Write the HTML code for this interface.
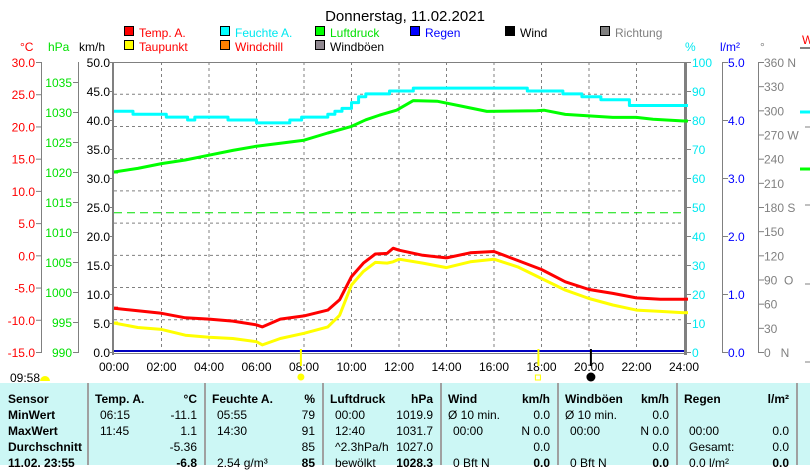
<!DOCTYPE html>
<html><head><meta charset="utf-8">
<style>
html,body{margin:0;padding:0;background:#fff;}
body{width:810px;height:465px;overflow:hidden;position:relative;font-family:"Liberation Sans",sans-serif;}
svg{position:absolute;left:0;top:0;}
svg text{font-family:"Liberation Sans",sans-serif;font-size:12px;}
#tbl{position:absolute;left:0;top:383px;width:810px;height:82px;background:#ccf7f5;}
.col{position:absolute;top:0;height:82px;border-left:2px solid #a0a0a0;}
.c{position:absolute;font-size:12px;white-space:nowrap;color:#000;}
.b{font-weight:bold;}
</style></head><body>
<svg id="chart" width="810" height="465" viewBox="0 0 810 465">
<text x="405" y="21" text-anchor="middle" style="font-size:15px">Donnerstag, 11.02.2021</text>
<g id="legend"></g>
<g id="grid"></g>
<g id="axes"></g>
<g id="series"></g>
</svg>
<div id="tbl"></div>
<script>
// ---- data ----
const xTicks = ["00:00","02:00","04:00","06:00","08:00","10:00","12:00","14:00","16:00","18:00","20:00","22:00","24:00"];
const kmhTicks = ["0.0","5.0","10.0","15.0","20.0","25.0","30.0","35.0","40.0","45.0","50.0"];
const tempTicks = ["-15.0","-10.0","-5.0","0.0","5.0","10.0","15.0","20.0","25.0","30.0"];
const presTicks = ["990","995","1000","1005","1010","1015","1020","1025","1030","1035"];
const humTicks = ["0","10","20","30","40","50","60","70","80","90","100"];
const rainTicks = ["0.0","1.0","2.0","3.0","4.0","5.0"];
const dirTicks = ["0   N","30","60","90  O","120","150","180 S","210","240","270 W","300","330","360 N"];
const tempHours = [0,1,2,3,4,5,6,6.25,7,8,9,9.5,10,10.5,11,11.5,11.75,12,13,14,15,16,17,18,19,20,21,22,23,24];
const tempValues = [-8.2,-8.6,-9.0,-9.7,-9.9,-10.2,-10.8,-11.1,-9.9,-9.4,-8.5,-6.9,-3.3,-1.2,0.2,0.3,1.1,0.8,0.0,-0.4,0.4,0.6,-0.8,-2.2,-4.1,-5.3,-5.9,-6.6,-6.8,-6.8];
const dewValues = [-10.5,-11.2,-11.5,-12.4,-12.7,-12.9,-13.4,-13.9,-12.9,-12.1,-11.1,-9.3,-4.6,-2.5,-1.1,-1.2,-1.0,-0.6,-1.2,-1.9,-1.0,-0.6,-1.8,-3.6,-5.4,-6.7,-7.7,-8.5,-8.7,-8.9];
const humHours = [0,0.8,2.2,3.1,3.4,3.7,4.8,6.0,6.9,7.4,7.9,8.6,9.0,9.3,9.6,10.0,10.3,10.6,11.6,12.6,15.6,17.4,18.9,19.7,20.5,21.7,24];
const humValues = [83,82,81,80,81,81,80,79,79,80,81,81,82,83,84,86,88,89,90,91,91,90,89,88,87,85,85];
const presHours = [0,1,2,3,4,5,6,7,8,9,10,10.6,11.2,11.9,12.6,13.6,14.6,15.7,17.8,18.1,19,21,22,22.7,24];
const presValues = [1020.0,1020.6,1021.4,1022.0,1022.8,1023.6,1024.3,1024.8,1025.3,1026.5,1027.6,1028.7,1029.5,1030.3,1031.9,1031.8,1031.0,1030.1,1030.2,1030.3,1029.6,1029.1,1029.1,1028.8,1028.5];
const rainValues = [0.0,0.0];
const rainHours = [0,24];
const refKmh = [24.0];
const sunRise = [7.87], sunSet = [17.87], moonRise = [20.08];

// ---- scales ----
const X0=114, X1=684, YT=62, YB=352;
const xs = h => X0 + (X1-X0)*h/24;
const yKmh = v => YB - (YB-YT)*v/50;
const yTemp = t => YB - (YB-YT)*(t+15)/45;
const yPres = p => YB - (YB-82)*(p-990)/45;
const yHum = p => YB - (YB-YT)*p/100;
const yRain = r => YB - (YB-YT)*r/5;
const NS='http://www.w3.org/2000/svg';
function mk(tag, attrs, parent, txt){const e=document.createElementNS(NS,tag);for(const k in attrs)e.setAttribute(k,attrs[k]);if(txt!==undefined)e.textContent=txt;parent.appendChild(e);return e;}
const G=document.getElementById('grid'), A=document.getElementById('axes'), S=document.getElementById('series'), L=document.getElementById('legend');

// grid
tempTicks.forEach((t,i)=>{const v=parseFloat(t); if(v>-15&&v<30){const l=mk('line',{x1:X0,x2:X1,y1:yTemp(v),y2:yTemp(v),stroke:'#808080','stroke-dasharray':'3,3'},G);

}});
xTicks.forEach((t,i)=>{const h=i*2; if(h>0&&h<24){const l=mk('line',{x1:xs(h),x2:xs(h),y1:YT,y2:YB,stroke:'#808080','stroke-dasharray':'3,3'},G);

}});

// plot frame
mk('line',{x1:X0,x2:X1,y1:YT+0.5,y2:YT+0.5,stroke:'#808080'},A);
mk('line',{x1:X0-1,x2:X0-1,y1:YT,y2:YB+3,stroke:'#808080','stroke-width':2},A);
mk('line',{x1:X1+1.5,x2:X1+1.5,y1:YT,y2:YB+3,stroke:'#808080','stroke-width':3},A);
mk('line',{x1:X0,x2:X1,y1:YB+1.5,y2:YB+1.5,stroke:'#808080'},A);

// x axis labels
xTicks.forEach((t,i)=>{const e=mk('text',{x:xs(i*2),y:371,'text-anchor':'middle'},A,t);

});

// left axes
mk('line',{x1:41.5,x2:41.5,y1:YT,y2:YB,stroke:'#808080'},A);
mk('line',{x1:78.5,x2:78.5,y1:YT,y2:YB,stroke:'#808080'},A);
tempTicks.forEach(t=>{const y=yTemp(parseFloat(t));mk('line',{x1:36,x2:42,y1:y+0.5,y2:y+0.5,stroke:'#808080'},A);
const e=mk('text',{x:35,y:y+5,'text-anchor':'end',fill:'#ff0000'},A,t);

});
presTicks.forEach(t=>{const y=yPres(parseFloat(t));mk('line',{x1:73,x2:79,y1:y+0.5,y2:y+0.5,stroke:'#808080'},A);
const e=mk('text',{x:72,y:y+5,'text-anchor':'end',fill:'#00e000'},A,t);

});
kmhTicks.forEach(t=>{const y=yKmh(parseFloat(t));mk('line',{x1:110,x2:114,y1:y+0.5,y2:y+0.5,stroke:'#808080'},A);
const e=mk('text',{x:110,y:y+5,'text-anchor':'end',fill:'#000'},A,t);

});
[['°C',20,'#ff0000'],['hPa',48,'#00e000'],['km/h',79,'#000']].forEach(a=>{const e=mk('text',{x:a[1],y:51},A,a[0]);e.setAttribute('fill',a[2]);

});

// right axes
humTicks.forEach(t=>{const y=yHum(parseFloat(t));mk('line',{x1:686,x2:691,y1:y+0.5,y2:y+0.5,stroke:'#808080'},A);
const e=mk('text',{x:692,y:y+5,fill:'#00e8f0'},A,t);

});
mk('line',{x1:722.5,x2:722.5,y1:YT,y2:YB,stroke:'#808080'},A);
rainTicks.forEach(t=>{const y=yRain(parseFloat(t));mk('line',{x1:722,x2:728,y1:y+0.5,y2:y+0.5,stroke:'#808080'},A);
const e=mk('text',{x:728,y:y+5,fill:'#0000ff'},A,t);

});
mk('line',{x1:758.5,x2:758.5,y1:YT,y2:YB,stroke:'#808080'},A);
dirTicks.forEach((t,i)=>{const y=YB-(YB-YT)*i/12;mk('line',{x1:758,x2:764,y1:y+0.5,y2:y+0.5,stroke:'#808080'},A);
const e=mk('text',{x:764,y:y+5,fill:'#808080'},A,t);e.setAttribute('xml:space','preserve');e.style.whiteSpace='pre';

});
[['%',685,'#00e8f0'],['l/m²',720,'#0000ff'],['°',760,'#808080']].forEach(a=>{const e=mk('text',{x:a[1],y:51},A,a[0]);e.setAttribute('fill',a[2]);

});
// far right partial axis
mk('text',{x:802,y:44,fill:'#ff0000'},A,'W');
mk('line',{x1:800,x2:810,y1:48,y2:48,stroke:'#808080','stroke-width':2},A);
mk('line',{x1:800,x2:810,y1:112,y2:112,stroke:'#00ffff','stroke-width':3},A);
mk('line',{x1:800,x2:810,y1:169,y2:169,stroke:'#00ff00','stroke-width':3},A);
[127,205,284,362].forEach(y=>mk('line',{x1:805,x2:810,y1:y,y2:y,stroke:'#808080'},A));

// legend
const legItems=[['Temp. A.','#ff0000','#ff0000',124,37],['Feuchte A.','#00ffff','#00e8f0',220,37],['Luftdruck','#00ff00','#00e000',315,37],['Regen','#0000ff','#0000ff',410,37],['Wind','#000000','#000',505,37],['Richtung','#808080','#808080',600,37],['Taupunkt','#ffff00','#ff0000',124,51],['Windchill','#ff8000','#ff0000',220,51],['Windböen','#908890','#000',315,51]];
legItems.forEach(it=>{mk('rect',{x:it[3]+0.5,y:it[4]-10.5,width:9,height:9,fill:it[1],stroke:'#000'},L);
const e=mk('text',{x:it[3]+15,y:it[4]},L,it[0]);e.setAttribute('fill',it[2]);

});

// series
function line(hours, vals, yf, color, name, step){
  let pts=[];
  for(let i=0;i<hours.length;i++){
    if(step&&i>0) pts.push(xs(hours[i]).toFixed(1)+','+yf(vals[i-1]).toFixed(1));
    pts.push(xs(hours[i]).toFixed(1)+','+yf(vals[i]).toFixed(1));
  }
  const p=mk('polyline',{points:pts.join(' '),fill:'none',stroke:color,'stroke-width':3,'stroke-linejoin':'round'},S);
  
  
}
const ref=mk('line',{x1:X0,x2:X1,y1:yKmh(refKmh[0]),y2:yKmh(refKmh[0]),stroke:'#00e000','stroke-dasharray':'8,5'},S);


line(humHours,humValues,yHum,'#00ffff','humidity-line',true);
line(presHours,presValues,yPres,'#00ff00','pressure-line',false);
line(tempHours,dewValues,yTemp,'#ffff00','dewpoint-line',false);
line(tempHours,tempValues,yTemp,'#ff0000','temperature-line',false);
const rl=mk('line',{x1:xs(rainHours[0]),x2:xs(rainHours[1]),y1:yRain(rainValues[0])-1,y2:yRain(rainValues[1])-1,stroke:'#0000c0','stroke-width':2},S);


// edge markers
[[yTemp(tempValues[0]),'#ff0000'],[yTemp(dewValues[0]),'#ffff00'],[yPres(presValues[0]),'#00ff00']].forEach(m=>mk('rect',{x:X0,y:m[0]-1.5,width:4,height:3,fill:m[1]},S));
[[yHum(humValues[humValues.length-1]),'#00ffff'],[yPres(presValues[presValues.length-1]),'#00ff00'],[yTemp(tempValues[tempValues.length-1]),'#ff0000'],[yTemp(dewValues[dewValues.length-1]),'#ffff00']].forEach(m=>mk('rect',{x:X1,y:m[0]-1.5,width:4,height:3,fill:m[1]},S));
// sun/moon markers
const sr=mk('line',{x1:xs(sunRise[0]),x2:xs(sunRise[0]),y1:YB-3,y2:YB+14,stroke:'#ffff00','stroke-width':2},S);

const ss=mk('line',{x1:xs(sunSet[0]),x2:xs(sunSet[0]),y1:YB-3,y2:YB+14,stroke:'#ffff00','stroke-width':2},S);

const mr=mk('line',{x1:xs(moonRise[0]),x2:xs(moonRise[0]),y1:YB-3,y2:YB+14,stroke:'#000','stroke-width':2},S);

mk('circle',{cx:xs(sunRise[0]),cy:377,r:3.5,fill:'#ffff00'},S);
mk('rect',{x:xs(sunSet[0])-3,y:375,width:5,height:5,fill:'none',stroke:'#ffff00'},S);
mk('circle',{cx:xs(moonRise[0]),cy:377,r:4.5,fill:'#000'},S);
mk('text',{x:10,y:382},S,'09:58');
mk('path',{d:'M40,381 A5,5 0 0 1 50,381 Z',fill:'#ffff00'},S);
</script>
<script>
const T=document.getElementById('tbl');
const cols=[[0,88],[88,205],[205,323],[323,441],[441,558],[558,677],[677,797],[797,810]];
cols.forEach((c,i)=>{if(i>0){const d=document.createElement('div');d.className='col';d.style.left=(c[0]-1)+'px';d.style.width=(c[1]-c[0])+'px';T.appendChild(d);}});
const rowsY=[9,25,41,57,73];
const tdata=[
 [["Sensor","",1],["MinWert","",1],["MaxWert","",1],["Durchschnitt","",1],["11.02. 23:55","",1]],
 [["Temp. A.","°C",1],["06:15","-11.1",0],["11:45","1.1",0],["","-5.36",0],["","-6.8",2]],
 [["Feuchte A.","%",1],["05:55","79",0],["14:30","91",0],["","85",0],["2.54 g/m³","85",2]],
 [["Luftdruck","hPa",1],["00:00","1019.9",0],["12:40","1031.7",0],["^2.3hPa/h","1027.0",0],["bewölkt","1028.3",2]],
 [["Wind","km/h",1],["Ø 10 min.","0.0",0],["00:00","N 0.0",0],["","0.0",0],["0 Bft N","0.0",2]],
 [["Windböen","km/h",1],["Ø 10 min.","0.0",0],["00:00","N 0.0",0],["","0.0",0],["0 Bft N","0.0",2]],
 [["Regen","l/m²",1],["","",0],["00:00","0.0",0],["Gesamt:","0.0",0],["0.0 l/m²","0.0",2]]
];
tdata.forEach((col,ci)=>{
  const left=cols[ci][0], right=cols[ci][1];
  col.forEach((r,ri)=>{
    if(r[0]){const s=document.createElement('div');s.className='c'+((r[2]==1||ci==0)?' b':'');
      s.style.left=(left+(ci==0?8:(r[2]==1?7:(ri==1&&(ci==4||ci==5)?7:12))))+'px';s.style.top=rowsY[ri]+'px';s.textContent=r[0];
      
      
      T.appendChild(s);}
    if(r[1]){const s=document.createElement('div');s.className='c'+(r[2]?' b':'');
      s.style.right=(810-right+8)+'px';s.style.top=rowsY[ri]+'px';s.textContent=r[1];
      
      
      T.appendChild(s);}
  });
});
</script>
</body></html>
